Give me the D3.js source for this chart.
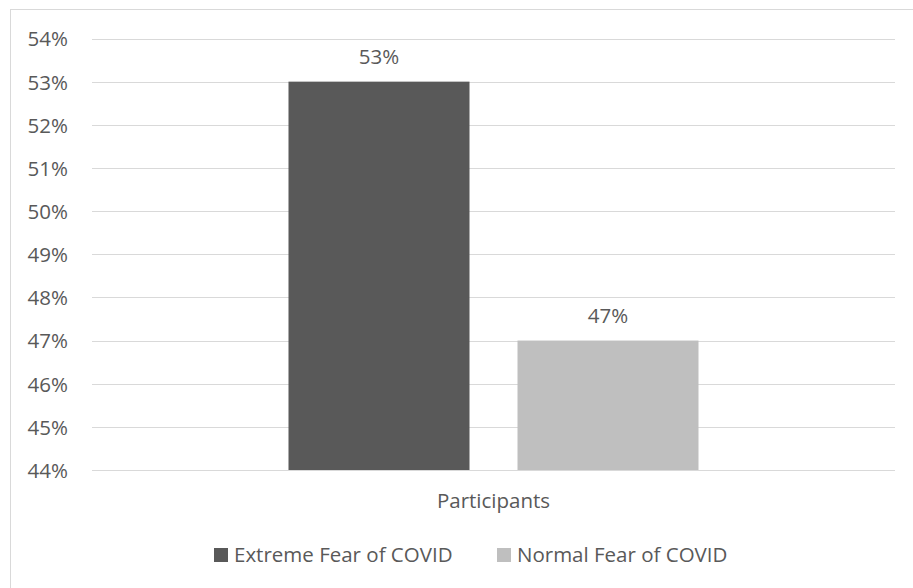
<!DOCTYPE html>
<html>
<head>
<meta charset="utf-8">
<script src="https://cdn.jsdelivr.net/npm/d3@7"></script>
<style>
  html, body { margin: 0; padding: 0; background: #fff; }
  svg { display: block; }
  text { font-family: "Open Sans", "Noto Sans", sans-serif; fill: #595959; }
</style>
</head>
<body>
<svg id="chart" width="913" height="588"></svg>
<script>
// Share of participants by fear-of-COVID level
const categories = ["Participants"];
const seriesNames = ["Extreme Fear of COVID", "Normal Fear of COVID"];
const seriesValues = [53, 47];
const seriesColors = ["#595959", "#bfbfbf"];
const yTicks = [44, 45, 46, 47, 48, 49, 50, 51, 52, 53, 54];

const W = 913, H = 588;
const FS = 20.5;
const margin = { top: 38.5, right: 18, bottom: 118, left: 92 };
const svg = d3.select("#chart");

// outer chart frame
svg.append("rect")
  .attr("x", 10.5).attr("y", 9.5)
  .attr("width", 920).attr("height", 600)
  .attr("fill", "none").attr("stroke", "#d9d9d9").attr("stroke-width", 1);

const x0 = d3.scaleBand().domain(categories)
  .range([margin.left, W - margin.right]);
const y = d3.scaleLinear().domain([44, 54])
  .range([H - margin.bottom, margin.top]);

// bars sit in the middle of the category band with a gap between them
const barW = 181, barGap = 48;
const x1 = d3.scaleBand().domain(seriesNames)
  .range([-(barW + barGap / 2), barW + barGap / 2])
  .paddingInner(barGap / (barW + barGap)).paddingOuter(0);

// gridlines
svg.append("g").selectAll("line").data(yTicks).join("line")
  .attr("x1", margin.left).attr("x2", W - margin.right)
  .attr("y1", d => Math.round(y(d)) + 0.5).attr("y2", d => Math.round(y(d)) + 0.5)
  .attr("stroke", "#d9d9d9").attr("stroke-width", 1);

// y axis labels
const yAxis = d3.axisLeft(y).tickValues(yTicks).tickFormat(d => d + "%")
  .tickSize(0).tickPadding(0);
const yg = svg.append("g").attr("transform", `translate(${margin.left - 24},0)`).call(yAxis);
yg.select(".domain").remove();
yg.selectAll("text").attr("font-size", FS).attr("fill", "#595959")
  .attr("font-family", "Open Sans").attr("dy", "0.36em");

// bars
const center = x0(categories[0]) + x0.bandwidth() / 2;
const data = seriesNames.map((n, i) => ({ name: n, value: seriesValues[i], color: seriesColors[i] }));
svg.append("g").selectAll("rect").data(data).join("rect")
  .attr("x", d => center + x1(d.name))
  .attr("width", x1.bandwidth())
  .attr("y", d => y(d.value))
  .attr("height", d => y(44) - y(d.value))
  .attr("fill", d => d.color);

// value labels
svg.append("g").selectAll("text").data(data).join("text")
  .attr("x", d => center + x1(d.name) + x1.bandwidth() / 2)
  .attr("y", d => y(d.value) - 18)
  .attr("text-anchor", "middle")
  .attr("font-size", FS)
  .text(d => d.value + "%");

// category axis label
svg.append("text")
  .attr("x", center).attr("y", 508)
  .attr("text-anchor", "middle").attr("font-size", FS)
  .text(categories[0]);

// legend
const legend = svg.append("g");
const legendX = [214, 497];
data.forEach((d, i) => {
  legend.append("rect").attr("x", legendX[i]).attr("y", 548)
    .attr("width", 14).attr("height", 14).attr("fill", d.color);
  legend.append("text").attr("x", legendX[i] + 20).attr("y", 562)
    .attr("font-size", FS).text(d.name);
});
</script>
</body>
</html>
